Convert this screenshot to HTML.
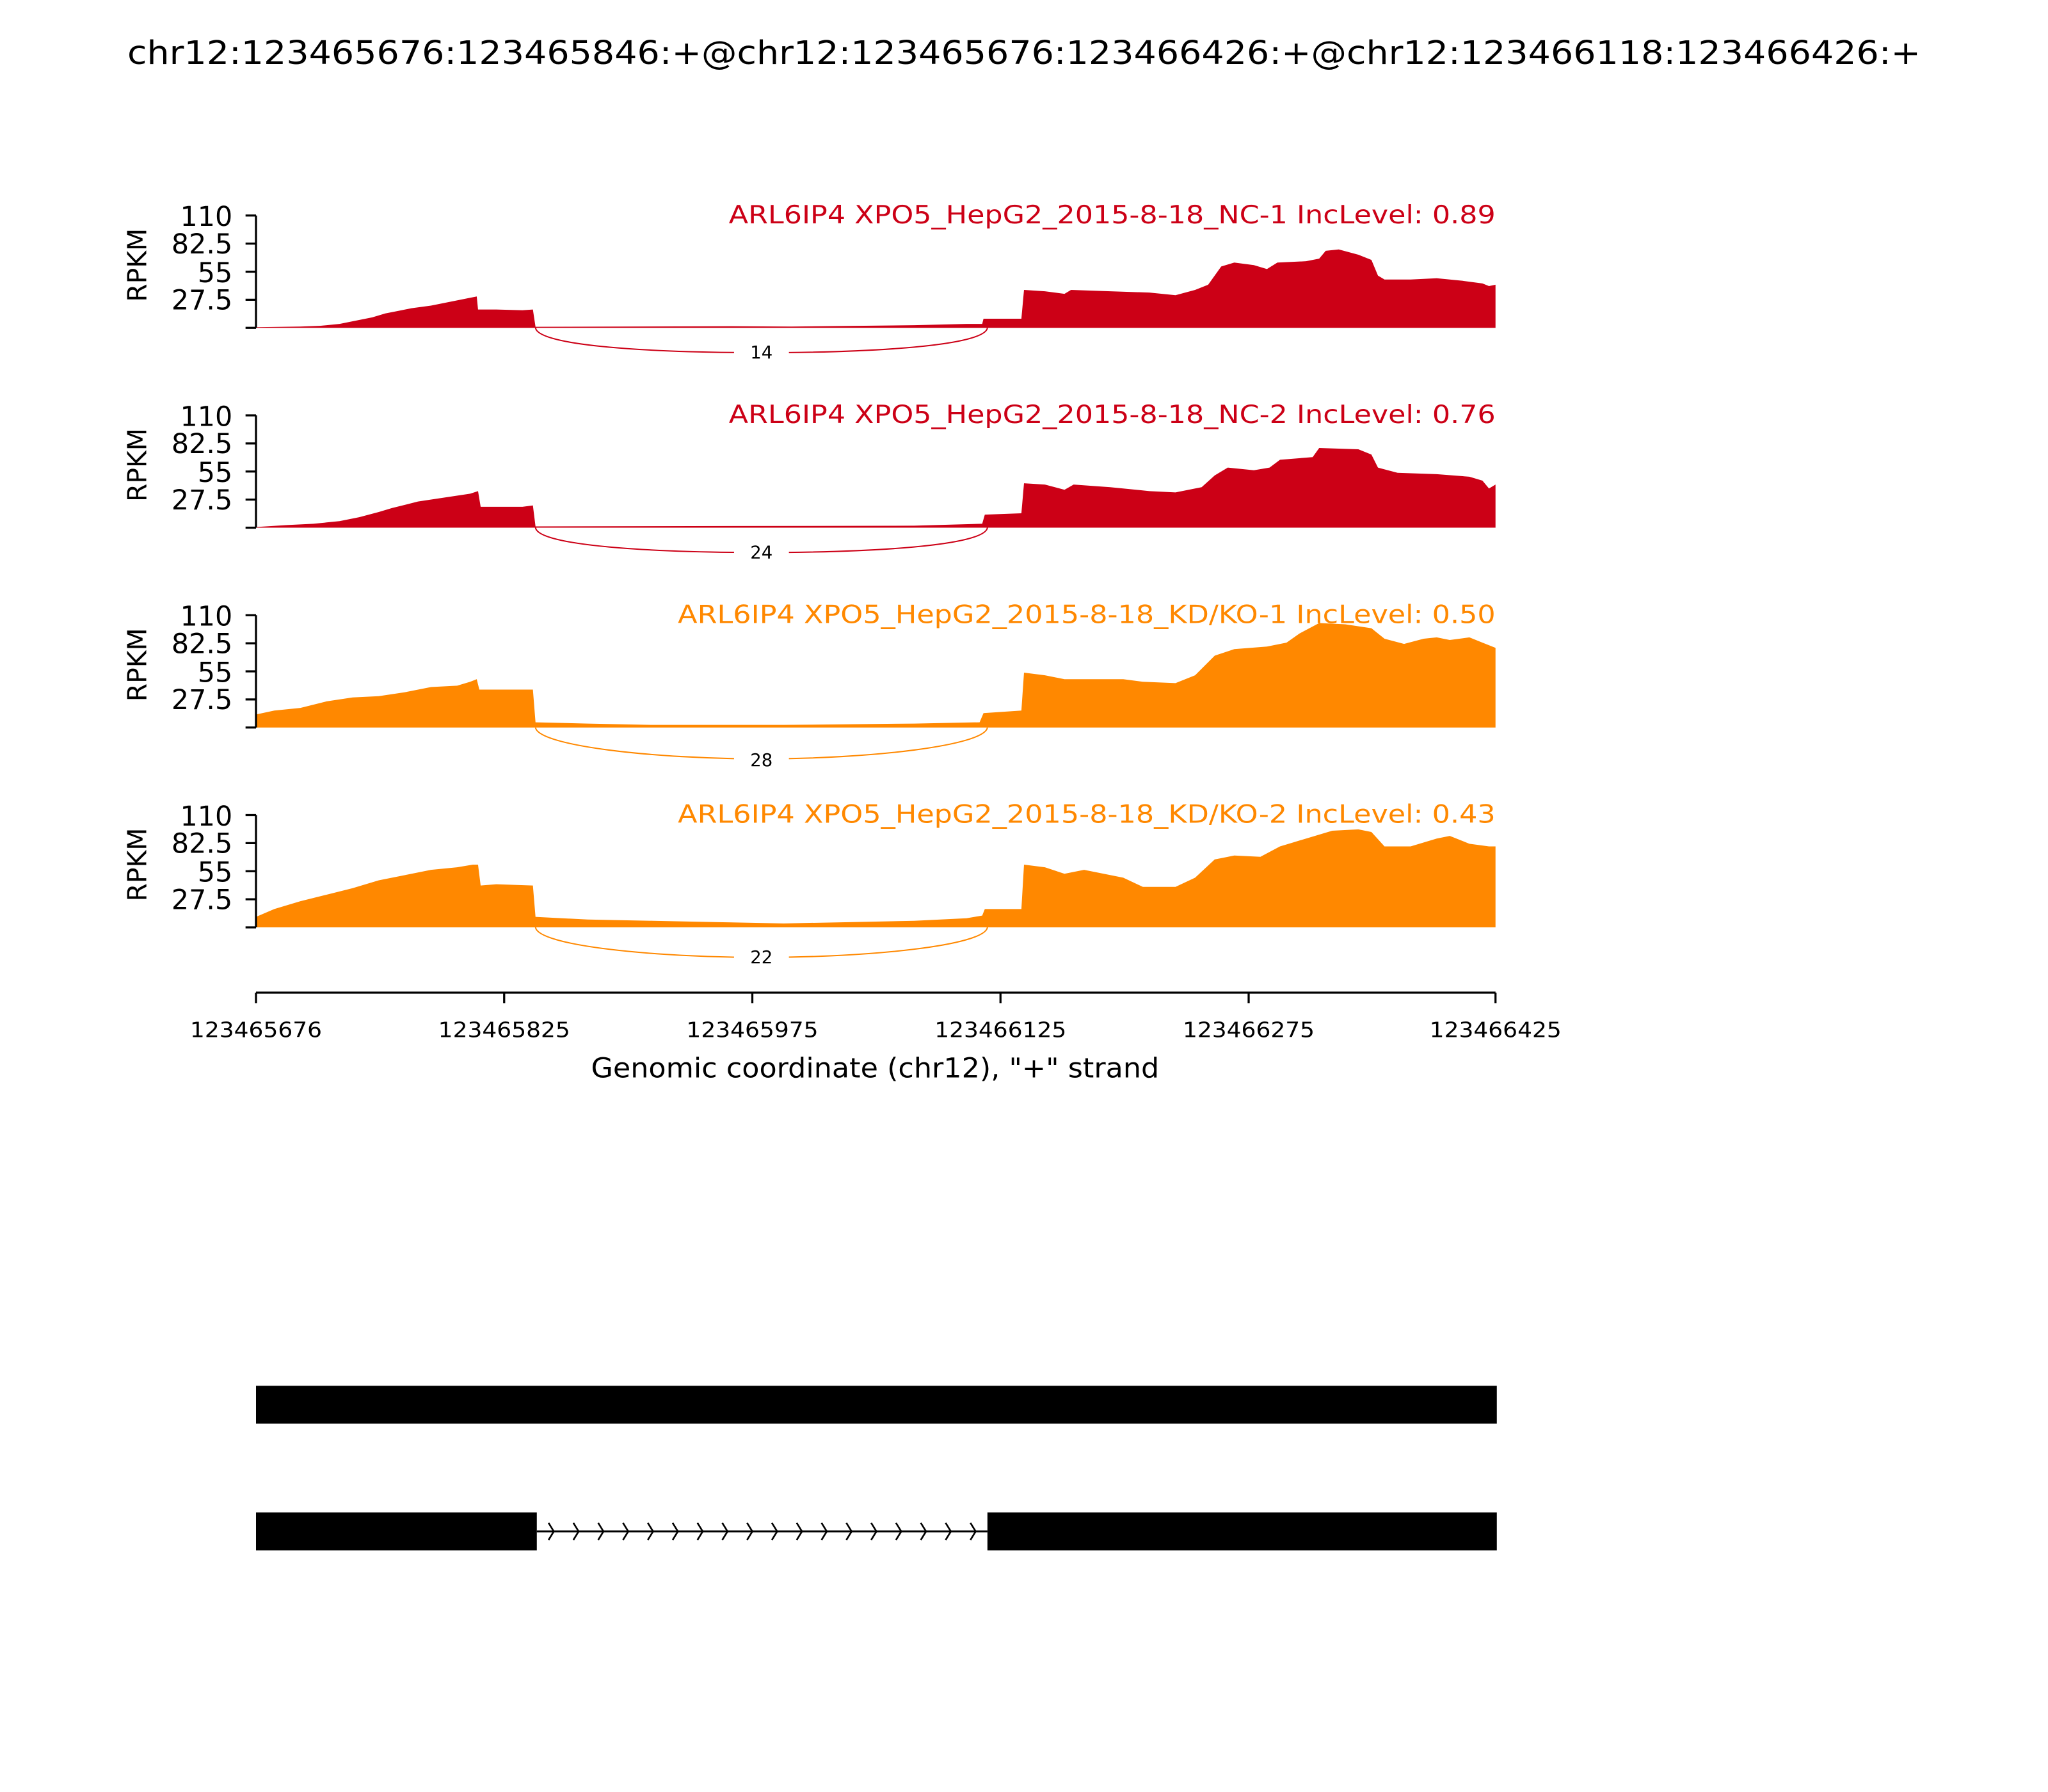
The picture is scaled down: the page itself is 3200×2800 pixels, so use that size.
<!DOCTYPE html>
<html><head><meta charset="utf-8"><style>html,body{margin:0;padding:0;background:#fff}svg{display:block}</style></head>
<body>
<svg xmlns="http://www.w3.org/2000/svg" width="3200" height="2800" viewBox="0 0 1568 1372" font-family="DejaVu Sans, Liberation Sans, sans-serif">
<rect width="1568" height="1372" fill="#fff"/>
<text x="784" y="49" font-size="25" text-anchor="middle" textLength="1373" lengthAdjust="spacingAndGlyphs">chr12:123465676:123465846:+@chr12:123465676:123466426:+@chr12:123466118:123466426:+</text>

<!-- Panel 1 -->
<g transform="translate(0,251)">
 <g transform="scale(1,-1)"><polygon fill="#cc0016" points="196,0 196,0.5 230,1 245,1.5 260,3 270,5 285,8 295,11 305,13 315,15 330,17 345,20 360,23 365,24 366,14 380,14 400,13.5 408,14 410,0.8 560,1.2 606,1 700,2 740,3 752,3 753,7 782,7 784,29 800,28 815,26 820,29 850,28 880,27 900,25 915,29 925,33 935,47 945,50 960,48 970,45 978,50 1000,51 1010,53 1015,59 1025,60 1040,56 1050,52 1055,40 1060,37 1080,37 1100,38 1120,36 1135,34 1140,32 1145,33 1145,0"/></g>
 <path d="M410 0 C412 14,500 19,583 19 C666 19,754 14,756 0" fill="none" stroke="#cc0016" stroke-width="1"/>
 <rect x="562" y="10" width="42" height="18" fill="#fff"/>
 <text x="583" y="23.5" font-size="13.5" text-anchor="middle">14</text>
</g>
<!-- Panel 2 -->
<g transform="translate(0,404)">
 <g transform="scale(1,-1)"><polygon fill="#cc0016" points="196,0 196,0.5 220,2 240,3 260,5 275,8 290,12 300,15 320,20 340,23 360,26 366,28 368,16 400,16 408,17 410,1 700,1.5 752,3 754,10 782,11 784,34 800,33 815,29 822,33 850,31 880,28 900,27 920,31 930,40 940,46 960,44 972,46 980,52 1005,54 1010,61 1040,60 1050,56 1055,46 1070,42 1100,41 1125,39 1135,36 1140,30 1145,33 1145,0"/></g>
 <path d="M410 0 C412 14,500 19,583 19 C666 19,754 14,756 0" fill="none" stroke="#cc0016" stroke-width="1"/>
 <rect x="562" y="10" width="42" height="18" fill="#fff"/>
 <text x="583" y="23.5" font-size="13.5" text-anchor="middle">24</text>
</g>
<!-- Panel 3 -->
<g transform="translate(0,557)">
 <g transform="scale(1,-1)"><polygon fill="#ff8800" points="196,0 196,10 210,13 230,15 250,20 270,23 290,24 310,27 330,31 350,32 360,35 365,37 367,29 408,29 410,4 450,3 500,2 600,2 700,3 750,4 753,11 782,13 784,42 800,40 815,37 830,37 860,37 875,35 900,34 915,40 930,55 945,60 970,62 985,65 995,72 1010,80 1030,79 1050,76 1060,68 1075,64 1090,68 1100,69 1110,67 1125,69 1135,65 1145,61 1145,0"/></g>
 <path d="M410 0 C412 14,500 24,583 24 C666 24,754 14,756 0" fill="none" stroke="#ff8800" stroke-width="1"/>
 <rect x="562" y="16" width="42" height="18" fill="#fff"/>
 <text x="583" y="29.5" font-size="13.5" text-anchor="middle">28</text>
</g>
<!-- Panel 4 -->
<g transform="translate(0,710)">
 <g transform="scale(1,-1)"><polygon fill="#ff8800" points="196,0 196,8 210,14 230,20 250,25 270,30 290,36 310,40 330,44 350,46 362,48 366,48 368,32 380,33 408,32 410,8 450,6 500,5 550,4 600,3 650,4 700,5 740,7 752,9 754,14 782,14 784,48 800,46 815,41 830,44 860,38 875,31 900,31 915,38 930,52 945,55 965,54 980,62 990,65 1000,68 1020,74 1040,75 1050,73 1060,62 1080,62 1100,68 1110,70 1125,64 1140,62 1145,62 1145,0"/></g>
 <path d="M410 0 C412 14,500 23,583 23 C666 23,754 14,756 0" fill="none" stroke="#ff8800" stroke-width="1"/>
 <rect x="562" y="14" width="42" height="18" fill="#fff"/>
 <text x="583" y="27.5" font-size="13.5" text-anchor="middle">22</text>
</g>

<!-- y axes -->
<g stroke="#000" stroke-width="1.6" fill="none">
 <path d="M196 165V251M188 165H196M188 186.5H196M188 208H196M188 229.5H196M188 251H196"/>
 <path d="M196 318V404M188 318H196M188 339.5H196M188 361H196M188 382.5H196M188 404H196"/>
 <path d="M196 471V557M188 471H196M188 492.5H196M188 514H196M188 535.5H196M188 557H196"/>
 <path d="M196 624V710M188 624H196M188 645.5H196M188 667H196M188 688.5H196M188 710H196"/>
</g>
<g font-size="21" text-anchor="end">
 <text x="178" y="173">110</text><text x="178" y="194">82.5</text><text x="178" y="216">55</text><text x="178" y="237">27.5</text>
 <text x="178" y="326">110</text><text x="178" y="347">82.5</text><text x="178" y="369">55</text><text x="178" y="390">27.5</text>
 <text x="178" y="479">110</text><text x="178" y="500">82.5</text><text x="178" y="522">55</text><text x="178" y="543">27.5</text>
 <text x="178" y="632">110</text><text x="178" y="653">82.5</text><text x="178" y="675">55</text><text x="178" y="696">27.5</text>
</g>
<g font-size="20" text-anchor="middle">
 <text transform="translate(112,203) rotate(-90)">RPKM</text>
 <text transform="translate(112,356) rotate(-90)">RPKM</text>
 <text transform="translate(112,509) rotate(-90)">RPKM</text>
 <text transform="translate(112,662) rotate(-90)">RPKM</text>
</g>
<g font-size="19" text-anchor="end">
 <text x="1145" y="171" fill="#cc0016" textLength="587" lengthAdjust="spacingAndGlyphs">ARL6IP4 XPO5_HepG2_2015-8-18_NC-1 IncLevel: 0.89</text>
 <text x="1145" y="324" fill="#cc0016" textLength="587" lengthAdjust="spacingAndGlyphs">ARL6IP4 XPO5_HepG2_2015-8-18_NC-2 IncLevel: 0.76</text>
 <text x="1145" y="477" fill="#ff8800" textLength="626" lengthAdjust="spacingAndGlyphs">ARL6IP4 XPO5_HepG2_2015-8-18_KD/KO-1 IncLevel: 0.50</text>
 <text x="1145" y="630" fill="#ff8800" textLength="626" lengthAdjust="spacingAndGlyphs">ARL6IP4 XPO5_HepG2_2015-8-18_KD/KO-2 IncLevel: 0.43</text>
</g>

<!-- x axis -->
<path d="M196 760H1145M196 760V768M386 760V768M576 760V768M766 760V768M956 760V768M1145 760V768" stroke="#000" stroke-width="1.6" fill="none"/>
<g font-size="16" text-anchor="middle">
 <text x="196" y="794" textLength="101" lengthAdjust="spacingAndGlyphs">123465676</text><text x="386" y="794" textLength="101" lengthAdjust="spacingAndGlyphs">123465825</text><text x="576" y="794" textLength="101" lengthAdjust="spacingAndGlyphs">123465975</text>
 <text x="766" y="794" textLength="101" lengthAdjust="spacingAndGlyphs">123466125</text><text x="956" y="794" textLength="101" lengthAdjust="spacingAndGlyphs">123466275</text><text x="1145" y="794" textLength="101" lengthAdjust="spacingAndGlyphs">123466425</text>
</g>
<text x="670" y="825" font-size="21" text-anchor="middle" textLength="435" lengthAdjust="spacingAndGlyphs">Genomic coordinate (chr12), "+" strand</text>

<!-- gene model -->
<rect x="196" y="1061" width="950" height="29" fill="#000"/>
<rect x="196" y="1158" width="215" height="29" fill="#000"/>
<rect x="756" y="1158" width="390" height="29" fill="#000"/>
<path d="M411 1172.5H756" stroke="#000" stroke-width="1.5"/>
<g stroke="#000" stroke-width="1.3" fill="none">
<path d="M420 1166L424 1172.5L420 1179M439 1166L443 1172.5L439 1179M458 1166L462 1172.5L458 1179M477 1166L481 1172.5L477 1179M496 1166L500 1172.5L496 1179M515 1166L519 1172.5L515 1179M534 1166L538 1172.5L534 1179M553 1166L557 1172.5L553 1179M572 1166L576 1172.5L572 1179M591 1166L595 1172.5L591 1179M610 1166L614 1172.5L610 1179M629 1166L633 1172.5L629 1179M648 1166L652 1172.5L648 1179M667 1166L671 1172.5L667 1179M686 1166L690 1172.5L686 1179M705 1166L709 1172.5L705 1179M724 1166L728 1172.5L724 1179M743 1166L747 1172.5L743 1179"/>
</g>
</svg>
</body></html>
